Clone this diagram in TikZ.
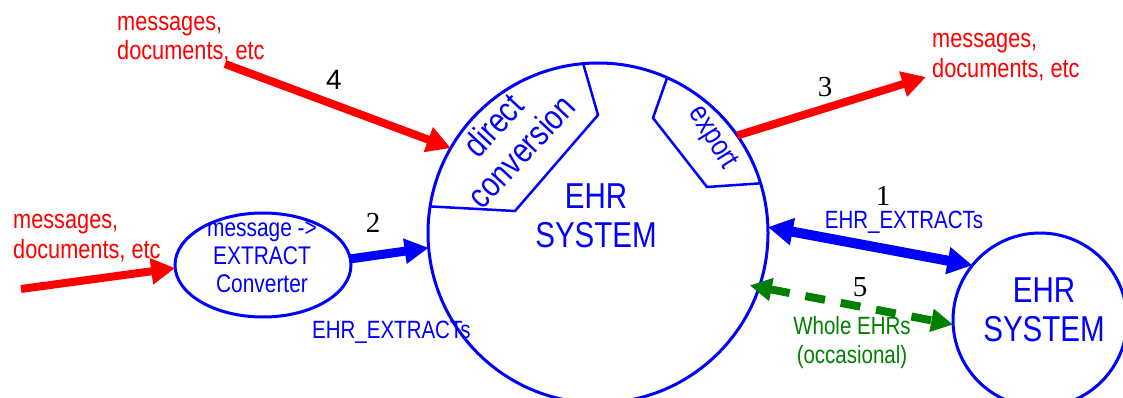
\documentclass[tikz,border=0pt]{standalone}
\usepackage{fontspec}
\setmainfont{Liberation Sans}[FakeStretch=0.82]
\newfontfamily\serifnum{Liberation Serif}
\newfontfamily\sansnum{Liberation Sans}
\usetikzlibrary{arrows.meta,shapes.geometric}
\definecolor{dgreen}{RGB}{0,128,0}
\begin{document}
\begin{tikzpicture}[x=1pt,y=-1pt,
  redlbl/.style={text=red, font=\fontsize{26.5}{29}\selectfont, inner sep=0, anchor=base west},
  numlbl/.style={font=\serifnum\fontsize{29}{32}\selectfont, inner sep=0},
  bluelbl/.style={text=blue, font=\fontsize{25}{28}\selectfont, inner sep=0, align=center},
  greenlbl/.style={text=dgreen, font=\fontsize{25}{29}\selectfont, inner sep=0, align=center},
  bigtxt/.style={text=blue, font=\fontsize{36}{39}\selectfont, inner sep=0, align=center},
  sys/.style={circle, draw=blue, line width=3pt, outer sep=0, inner sep=0},
  segline/.style={draw=blue, line width=2.5pt, line join=miter},
  redarrow/.style={draw=red, line width=8pt, -{Triangle[length=24pt,width=25pt]}},
  bluearrow/.style={draw=blue, line width=9pt, -{Triangle[length=24pt,width=24pt]}},
  bluedouble/.style={draw=blue, line width=10pt, {Triangle[length=25pt,width=26pt]}-{Triangle[length=25pt,width=26pt]}},
  greendouble/.style={draw=dgreen, line width=8pt, dash pattern=on 20pt off 16pt, {Triangle[length=22pt,width=22pt]}-{Triangle[length=22pt,width=22pt]}}
]
\clip (0,0) rectangle (1123,398);
\useasboundingbox (0,0) rectangle (1123,398);

% main system
\node[sys, minimum size=340pt] (main) at (598,233) {};
\node[bigtxt] (maintxt) at (596,216) {EHR\\SYSTEM};

% segments
\draw[segline] (main.171) -- (515,211) -- (598,115) -- (main.95.5);
\draw[segline] (main.66) -- (653,118) -- (707,187) -- (main.17.5);
\node[text=blue, font=\fontsize{35}{38}\selectfont, inner sep=0, align=center, rotate=47] (dctxt) at (507,138) {direct\\conversion};
\node[text=blue, font=\fontsize{30}{34}\selectfont, inner sep=0, rotate=-58] (exptxt) at (712,138) {export};

% second system
\node[sys, minimum size=174pt] (other) at (1040,320) {};
\node[bigtxt] (othertxt) at (1044,310) {EHR\\SYSTEM};

% converter
\node[ellipse, draw=blue, line width=3pt, minimum width=176pt, minimum height=104pt, outer sep=0] (conv) at (263,265) {};
\node[text=blue, font=\fontsize{25.5}{28}\selectfont, inner sep=0, align=center] (convtxt) at (262,257) {message ->\\EXTRACT\\Converter};

% red labels
\node[redlbl] (tl1) at (117,31) {messages,};
\node[redlbl] (tl2) at (117,60) {documents, etc};
\node[redlbl] (tr1) at (932,48) {messages,};
\node[redlbl] (tr2) at (932,78) {documents, etc};
\node[redlbl] (l1) at (13,228) {messages,};
\node[redlbl] (l2) at (13,258) {documents, etc};

% connector end points
\coordinate (s4) at (225,64);
\coordinate (e3) at (926,77);
\coordinate (sl) at (21,289);

% arrows
\draw[redarrow] (s4) -- (main.150);
\draw[redarrow] (main.35) -- (e3);
\draw[redarrow] (sl) -- (conv.182);
\draw[bluearrow] (conv.4) -- (main.185.5);
\draw[bluedouble] (main.2.6) -- (other.141);
\draw[greendouble] ([shift={(-9,-3)}]main.-19) -- (other.183);

% numbers
\node[font=\sansnum\fontsize{28}{30}\selectfont, inner sep=0] (n4) at (334,80) {4};
\node[numlbl] (n3) at (825,87) {3};
\node[numlbl] (n2) at (373,223) {2};
\node[numlbl] (n1) at (883,196) {1};
\node[numlbl] (n5) at (860,287) {5};

% flow labels
\node[bluelbl] (ex1) at (904,222) {EHR\_EXTRACTs};
\node[bluelbl, anchor=base west] (ex2) at (312,338) {EHR\_EXTRACTs};
\node[greenlbl] (whole) at (852,343) {Whole EHRs\\(occasional)};
\end{tikzpicture}
\end{document}
